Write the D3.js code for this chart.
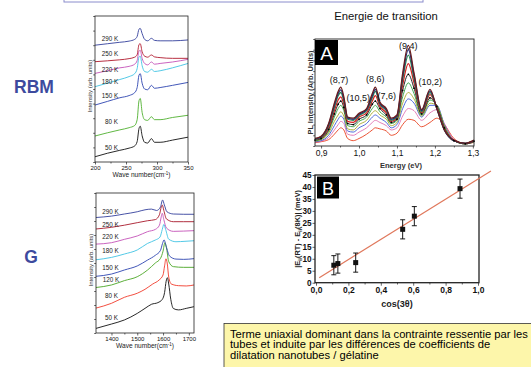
<!DOCTYPE html>
<html>
<head>
<meta charset="utf-8">
<script src="https://cdn.jsdelivr.net/npm/d3@7"></script>
<style>
  body { margin: 0; background: #fff; }
  text { font-family: "Liberation Sans", Arial, sans-serif; }
</style>
</head>
<body>
<svg id="fig" width="531" height="367"></svg>
<script>
// ---- RBM spectra (intensity in arbitrary units, 0..100 of the frame)
const rbmWave = [200, 220, 240, 255, 264, 268, 271, 273, 276, 280, 285, 291, 296, 305, 325, 350];
const rbm50K  = [3.6, 6, 8, 9.5, 11, 14, 23, 24.5, 18, 13.5, 13, 16, 13.5, 13.5, 15, 17];
const rbm80K  = [17.8, 20, 22, 23.5, 25, 29, 42, 43.5, 34, 29, 28.5, 31, 29, 29, 30.5, 32];
const rbm150K = [39, 41.5, 44, 45.5, 47.5, 51, 59.5, 60.5, 54, 50, 49.5, 52.5, 50.5, 51, 52.5, 54.5];
const rbm180K = [51.6, 54, 56.5, 58.5, 60.5, 64, 72, 72.5, 66, 62, 61.5, 63.5, 62, 62.5, 64.5, 67.5];
const rbm220K = [60.7, 62.5, 64.5, 65.5, 67, 69.5, 76, 76.5, 71, 67.5, 66.5, 68.5, 67, 67.5, 68.5, 70.3];
const rbm250K = [68.7, 69.3, 70, 70.8, 71.8, 73.5, 80.5, 81, 75.5, 72.5, 71.8, 73.3, 72, 71.5, 71, 71];
const rbm290K = [80, 81, 82, 82.8, 84, 86, 91, 91.5, 88, 84, 83, 84.7, 83.3, 83, 83, 83.6];
const rbmTemps = ["50 K", "80 K", "150 K", "180 K", "220 K", "250 K", "290 K"];
const rbmLabelLevel = [9.8, 27.6, 45.2, 54.6, 63, 73.8, 84.2];
const rbmLabelWave = [216, 216, 211, 211, 211, 211, 211];
const rbmTicks = [200, 250, 300, 350];

// ---- G band spectra, [wave number, intensity]
const g50K  = [[1340,3.3],[1400,6.4],[1450,9.3],[1500,14],[1530,17.6],[1555,20.5],[1580,21.7],[1597,24],[1606,29],[1612,37],[1617,39.5],[1622,35],[1630,24],[1640,17.5],[1660,16.5],[1690,17.6],[1720,18.8]];
const g80K  = [[1340,17.8],[1400,21.2],[1450,25.5],[1500,28.4],[1530,31.2],[1560,35],[1585,37.9],[1600,41.5],[1606,48],[1611,53],[1616,50],[1622,40],[1632,35],[1660,33.8],[1690,33.6],[1720,34.3]];
const g120K = [[1340,32.5],[1400,34.3],[1450,37.4],[1500,40.2],[1540,45],[1570,50],[1590,53.3],[1600,58.5],[1607,64.5],[1614,60],[1622,51],[1640,47.4],[1680,46.9],[1720,46.9]];
const g150K = [[1340,40.5],[1400,42.1],[1450,45],[1500,47.9],[1540,52.1],[1570,55.5],[1590,59],[1598,64],[1604,66.5],[1612,62],[1625,55],[1650,52.8],[1680,52.6],[1720,53.1]];
const g180K = [[1340,52.3],[1400,54],[1450,56.4],[1500,59.3],[1540,64],[1570,66.4],[1588,68.5],[1597,74],[1603,77.5],[1610,74],[1622,67],[1650,65.2],[1685,65.5],[1720,65.9]];
const g220K = [[1340,63.5],[1400,64.5],[1450,66.9],[1500,69.3],[1540,72.4],[1570,74],[1586,77],[1593,83],[1597,85.5],[1603,81],[1613,75],[1640,72.6],[1680,72.8],[1720,73.1]];
const g250K = [[1340,74.3],[1400,75.5],[1450,77],[1500,78.8],[1540,80.2],[1570,81],[1586,84.5],[1593,90],[1597,91.4],[1603,87.5],[1613,81.5],[1640,79.5],[1680,79.5],[1720,79.5]];
const g290K = [[1340,82.5],[1400,83.5],[1450,85],[1500,86.6],[1530,88],[1555,88.5],[1575,87.5],[1590,90],[1598,95],[1605,91.5],[1615,86.6],[1640,85],[1680,84.8],[1720,84.8]];
const gTemps = ["50 K", "80 K", "120 K", "150 K", "180 K", "220 K", "250 K", "290 K"];
const gLabelLevel = [11.2, 26.4, 38.3, 46.9, 58.6, 68.4, 77.6, 86.6];
const gLabelWave = [1375, 1375, 1366, 1364, 1364, 1364, 1364, 1364];
const gTicks = [1400, 1500, 1600, 1700];

// ---- panel A : PL spectra (energy in eV)
const plEnergy = [0.884, 0.90, 0.92, 0.935, 0.945, 0.952, 0.96, 0.97, 0.985, 1.00, 1.02, 1.035, 1.043, 1.055, 1.072, 1.085, 1.10, 1.115, 1.13, 1.145, 1.165, 1.187, 1.205, 1.225, 1.25, 1.28, 1.303];
const pl1  = [7, 9, 21, 40, 51, 55, 46, 27, 26, 30.5, 35, 49, 55, 41, 35, 26, 29, 68, 94, 68, 34, 53, 35, 15, 5.5, 2.5, 5.5];
const pl2  = [6.5, 8.5, 20, 38, 49, 52.5, 44, 26, 25, 29.5, 34, 47, 53, 40, 34, 25, 28, 65, 90, 66, 33, 51.5, 35, 15, 5, 2.5, 5];
const pl3  = [6, 8, 19, 36, 47, 50, 42, 25, 24, 28.5, 33, 45, 51, 39, 33, 24, 27, 62, 85, 63, 32, 50, 35, 15, 5, 2.5, 5];
const pl4  = [6, 7.5, 17, 33, 43, 46, 39, 23, 22, 27, 31, 42, 47, 37, 31, 23, 26, 57, 77, 59, 31, 48, 36, 16, 5, 2.5, 4.5];
const pl5  = [5.5, 7, 15.5, 30, 39, 42, 36, 21, 20, 25, 29, 39, 42, 35, 29, 22, 25, 52, 67, 54, 30, 45, 37, 17, 5, 2, 4.5];
const pl6  = [5, 6.5, 14, 27, 35, 38, 33, 19, 18, 23, 27, 35, 38, 32, 27, 21, 24, 46, 59, 49, 29, 43, 38, 18, 5, 2, 4];
const pl7  = [4.5, 6, 12, 23, 29, 32, 28, 16, 15, 20, 24, 31, 33, 29, 25, 19, 22, 40, 50, 44, 28, 40, 38, 19, 5, 2, 4];
const pl8  = [4, 5, 10, 19, 25, 28, 25, 14, 13, 17, 21, 27, 29, 26, 22, 17, 20, 35, 44, 40, 27, 38, 38, 20, 5.5, 2, 4];
const pl9  = [3.5, 4.5, 8, 15, 20, 23, 21, 11, 10, 13, 17, 22, 24, 22, 19, 15, 17, 28, 35, 33, 24, 31, 34, 21, 6, 2, 4];
const pl10 = [3, 4, 6, 11, 15, 17, 15, 7, 5, 7, 11, 15, 17, 16, 14, 10, 12, 20, 25, 24, 18, 22, 26, 20, 7, 2, 3.5];
const plPeakNames = ["(8,7)", "(10,5)", "(8,6)", "(7,6)", "(9,4)", "(10,2)"];
const plPeakEnergy = [0.947, 0.998, 1.043, 1.073, 1.13, 1.188];
const plPeakLevel = [59, 42, 60, 44, 91, 57];
const plTicks = [0.9, 1.0, 1.1, 1.2, 1.3];

// ---- panel B : shift vs cos(3 theta)
const cosTheta = [0.11, 0.135, 0.245, 0.535, 0.607, 0.889];
const shiftMeV = [7.3, 8, 8.4, 22.3, 27.8, 39.3];
const shiftErr = [4, 4, 4, 4, 4, 4];
const fitCos = [0.02, 1.08];
const fitShift = [2.1, 46.7];

const svg = d3.select("#fig");
const ink = "#222";

function styleAxis(a, size) {
  a.select(".domain").remove();
  a.selectAll("line").attr("stroke", ink).attr("stroke-width", 0.7);
  a.selectAll("text").attr("font-family", "Liberation Sans, Arial, sans-serif").attr("font-size", size).attr("fill", "#111");
}

function frame(x0, y0, x1, y1, w) {
  svg.append("rect").attr("x", x0).attr("y", y0).attr("width", x1 - x0).attr("height", y1 - y0)
    .attr("fill", "none").attr("stroke", ink).attr("stroke-width", w);
}

// spectra panels on the left
function spectraPanel(o) {
  const x = d3.scaleLinear().domain(o.xDomain).range([o.left, o.right]);
  const y = d3.scaleLinear().domain([0, 100]).range([o.bottom, o.top]);
  const line = d3.line().x(d => x(d[0])).y(d => y(d[1])).curve(d3.curveMonotoneX);

  o.series.forEach(s => {
    svg.append("path").attr("d", line(s.pts)).attr("fill", "none")
      .attr("stroke", s.color).attr("stroke-width", 0.9);
    svg.append("text").attr("x", x(s.lx)).attr("y", y(s.ly)).attr("dy", "0.35em")
      .attr("font-size", 6.3).attr("fill", "#222").text(s.name);
  });

  frame(o.left, o.top, o.right, o.bottom, 0.8);
  svg.append("g").attr("transform", `translate(0,${o.bottom})`)
    .call(d3.axisBottom(x).tickValues(o.ticks).tickSize(2.5).tickPadding(1.5).tickFormat(d3.format("d")))
    .call(a => styleAxis(a, 6));
  svg.append("g").attr("transform", `translate(0,${o.bottom})`)
    .call(d3.axisBottom(x).tickValues(o.minor).tickSize(1.5).tickFormat(""))
    .call(a => styleAxis(a, 6));
  svg.append("g").attr("transform", `translate(${o.left},0)`)
    .call(d3.axisLeft(y).tickValues(d3.range(0, 101, 10)).tickSize(1.8).tickFormat(""))
    .call(a => styleAxis(a, 6));

  const xl = svg.append("text").attr("x", (o.left + o.right) / 2).attr("y", o.bottom + 15)
    .attr("text-anchor", "middle").attr("font-size", 6.6).attr("fill", "#222");
  xl.append("tspan").text("Wave number(cm");
  xl.append("tspan").attr("font-size", 4.5).attr("dy", -2.5).text("-1");
  xl.append("tspan").attr("dy", 2.5).text(")");

  svg.append("text").attr("transform", `translate(${o.left - 3},${(o.top + o.bottom) / 2 - 3}) rotate(-90)`)
    .attr("text-anchor", "middle").attr("font-size", 6).attr("fill", "#333").text("Intensity (arb. units)");
}

const rbmColors = ["#111111", "#4fb02f", "#2c44b0", "#3fc3e3", "#c452b8", "#b0182c", "#33409c"];
const rbmData = [rbm50K, rbm80K, rbm150K, rbm180K, rbm220K, rbm250K, rbm290K];
spectraPanel({
  left: 95, right: 188, top: 16, bottom: 162,
  xDomain: [200, 350], ticks: rbmTicks, minor: [225, 275, 325],
  series: rbmData.map((vals, i) => ({
    pts: rbmWave.map((w, j) => [w, vals[j]]), color: rbmColors[i],
    name: rbmTemps[i], lx: rbmLabelWave[i], ly: rbmLabelLevel[i]
  }))
});

const gColors = ["#111111", "#f03a2a", "#4aa624", "#2c44b0", "#3fc3e3", "#c452b8", "#a8182a", "#33409c"];
const gData = [g50K, g80K, g120K, g150K, g180K, g220K, g250K, g290K];
spectraPanel({
  left: 96, right: 194, top: 193, bottom: 333,
  xDomain: [1340, 1720], ticks: gTicks, minor: [1450, 1550, 1650],
  series: gData.map((pts, i) => ({
    pts: pts, color: gColors[i], name: gTemps[i], lx: gLabelWave[i], ly: gLabelLevel[i]
  }))
});

// big section labels
svg.append("text").attr("x", 34).attr("y", 93).attr("text-anchor", "middle")
  .attr("font-size", 17.5).attr("font-weight", "bold").attr("fill", "#3d4a9e").text("RBM");
svg.append("text").attr("x", 31).attr("y", 263).attr("text-anchor", "middle")
  .attr("font-size", 17.5).attr("font-weight", "bold").attr("fill", "#3d4a9e").text("G");

// top box edge and title
svg.append("rect").attr("x", 64).attr("y", -20).attr("width", 359).attr("height", 22)
  .attr("fill", "none").attr("stroke", "#8a8ccc").attr("stroke-width", 1);
svg.append("text").attr("x", 386).attr("y", 19.5).attr("text-anchor", "middle")
  .attr("font-size", 11.3).attr("fill", "#111").text("Energie de transition");

// ---- panel A
const comma = d => d3.format(".1f")(d).replace(".", ",");
{
  const left = 315, right = 474, top = 39, bottom = 146;
  const x = d3.scaleLinear().domain([0.884, 1.303]).range([left, right]);
  const y = d3.scaleLinear().domain([0, 100]).range([bottom, top]);
  const line = d3.line().x((d, i) => x(plEnergy[i])).y(d => y(d)).curve(d3.curveMonotoneX);
  const plSeries = [pl10, pl9, pl8, pl7, pl6, pl5, pl4, pl3, pl2, pl1];
  const plColors = ["#e8401e", "#e070b0", "#3a5ad8", "#a8a828", "#2fa040", "#111111", "#d82020", "#2a8a50", "#26307a", "#6a1e1e"];
  plSeries.forEach((vals, i) => {
    svg.append("path").attr("d", line(vals)).attr("fill", "none")
      .attr("stroke", plColors[i]).attr("stroke-width", i >= 6 ? 1.3 : 0.9);
  });
  svg.append("g").selectAll("circle").data(pl5).join("circle")
    .attr("cx", (d, i) => x(plEnergy[i])).attr("cy", d => y(d)).attr("r", 0.9).attr("fill", "#000");

  frame(left, top, right, bottom, 0.9);
  svg.append("g").attr("transform", `translate(0,${bottom})`)
    .call(d3.axisBottom(x).tickValues(plTicks).tickSize(2.5).tickPadding(1.5).tickFormat(comma))
    .call(a => styleAxis(a, 8.5));
  svg.append("g").attr("transform", `translate(0,${bottom})`)
    .call(d3.axisBottom(x).tickValues([0.95, 1.05, 1.15, 1.25]).tickSize(1.5).tickFormat(""))
    .call(a => styleAxis(a, 8));
  svg.append("g").attr("transform", `translate(${left},0)`)
    .call(d3.axisLeft(y).tickValues(d3.range(0, 101, 10)).tickSize(1.8).tickFormat(""))
    .call(a => styleAxis(a, 8));

  plPeakNames.forEach((n, i) => {
    svg.append("text").attr("x", x(plPeakEnergy[i])).attr("y", y(plPeakLevel[i]))
      .attr("text-anchor", "middle").attr("font-size", 9).attr("fill", "#111").text(n);
  });

  svg.append("rect").attr("x", left).attr("y", top + 1).attr("width", 23).attr("height", 25).attr("fill", "#000");
  svg.append("text").attr("x", left + 11.5).attr("y", top + 21).attr("text-anchor", "middle")
    .attr("font-size", 19).attr("fill", "#fff").text("A");

  svg.append("text").attr("transform", `translate(${left - 2.5},${(top + bottom) / 2}) rotate(-90)`)
    .attr("text-anchor", "middle").attr("font-size", 7.4).attr("font-weight", "bold").attr("fill", "#333")
    .text("PL Intensity (Arb. Units)");
  svg.append("text").attr("x", 401).attr("y", 168).attr("text-anchor", "middle")
    .attr("font-size", 7.6).attr("font-weight", "bold").attr("fill", "#333").text("Energy (eV)");
}

// ---- panel B
{
  const left = 316, right = 478, top = 175, bottom = 282.7;
  const x = d3.scaleLinear().domain([0, 1]).range([left, right]);
  const y = d3.scaleLinear().domain([0, 45]).range([bottom, top]);

  frame(left - 1, top, right + 1, bottom, 1.3);
  svg.append("g").attr("transform", `translate(0,${bottom})`)
    .call(d3.axisBottom(x).tickValues([0, 0.2, 0.4, 0.6, 0.8, 1.0]).tickSize(3).tickPadding(1.5).tickFormat(comma))
    .call(a => styleAxis(a, 8.5))
    .call(a => a.selectAll("text").attr("font-weight", "bold"));
  svg.append("g").attr("transform", `translate(0,${bottom})`)
    .call(d3.axisBottom(x).tickValues([0.1, 0.3, 0.5, 0.7, 0.9]).tickSize(1.8).tickFormat(""))
    .call(a => styleAxis(a, 8));
  svg.append("g").attr("transform", `translate(${left - 1},0)`)
    .call(d3.axisLeft(y).tickValues(d3.range(0, 46, 5)).tickSize(2.5).tickPadding(1))
    .call(a => styleAxis(a, 8.2))
    .call(a => a.selectAll("text").attr("font-weight", "bold"));

  const fit = d3.line().x((d, i) => x(fitCos[i])).y(d => y(d));
  svg.append("path").attr("d", fit(fitShift)).attr("stroke", "#e0785c").attr("stroke-width", 1.2).attr("fill", "none");

  const pts = svg.append("g");
  cosTheta.forEach((c, i) => {
    const cx = x(c), lo = y(shiftMeV[i] - shiftErr[i]), hi = y(shiftMeV[i] + shiftErr[i]);
    pts.append("line").attr("x1", cx).attr("x2", cx).attr("y1", lo).attr("y2", hi).attr("stroke", "#000").attr("stroke-width", 0.9);
    [lo, hi].forEach(v => pts.append("line").attr("x1", cx - 2.5).attr("x2", cx + 2.5).attr("y1", v).attr("y2", v)
      .attr("stroke", "#000").attr("stroke-width", 0.9));
    pts.append("rect").attr("x", cx - 2.5).attr("y", y(shiftMeV[i]) - 2.5).attr("width", 5).attr("height", 5).attr("fill", "#111");
  });

  svg.append("rect").attr("x", left + 1).attr("y", top + 1.5).attr("width", 22).attr("height", 22).attr("fill", "#000");
  svg.append("text").attr("x", left + 12).attr("y", top + 19.5).attr("text-anchor", "middle")
    .attr("font-size", 18).attr("fill", "#fff").text("B");

  const yl = svg.append("text").attr("transform", `translate(${left - 16},${(top + bottom) / 2}) rotate(-90)`)
    .attr("text-anchor", "middle").attr("font-size", 7.4).attr("font-weight", "bold").attr("fill", "#222");
  yl.append("tspan").text("|E");
  yl.append("tspan").attr("font-size", 5).attr("dy", 2).text("ii");
  yl.append("tspan").attr("dy", -2).text("(RT) - E");
  yl.append("tspan").attr("font-size", 5).attr("dy", 2).text("ii");
  yl.append("tspan").attr("dy", -2).text("(8K)| (meV)");

  svg.append("text").attr("x", 397).attr("y", 307).attr("text-anchor", "middle")
    .attr("font-size", 9).attr("font-weight", "bold").attr("fill", "#222").text("cos(3θ)");
}

// ---- comment box
const noteLines = [
  "Terme uniaxial dominant dans la contrainte ressentie par les",
  "tubes et induite par les différences de coefficients de",
  "dilatation nanotubes / gélatine"
];
svg.append("rect").attr("x", 224).attr("y", 323.5).attr("width", 320).attr("height", 60)
  .attr("fill", "#fdf6aa").attr("stroke", "#333").attr("stroke-width", 0.8);
svg.append("g").selectAll("text").data(noteLines).join("text")
  .attr("x", 230).attr("y", (d, i) => 337.5 + i * 10.9)
  .attr("font-size", 11.2).attr("fill", "#000").text(d => d);
</script>
</body>
</html>
